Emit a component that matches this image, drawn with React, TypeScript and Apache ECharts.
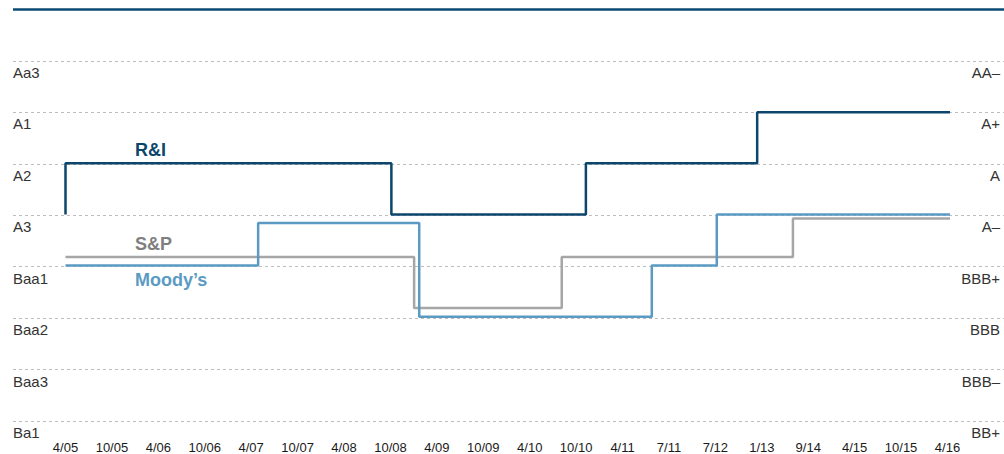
import React, { useEffect, useRef } from "react";
import * as echarts from "echarts";

const xLabels = ["4/05", "10/05", "4/06", "10/06", "4/07", "10/07", "4/08", "10/08", "4/09", "10/09", "4/10", "10/10", "4/11", "7/11", "7/12", "1/13", "9/14", "4/15", "10/15", "4/16"];
const leftRatings = ["Ba1", "Baa3", "Baa2", "Baa1", "A3", "A2", "A1", "Aa3"];
const rightRatings = ["BB+", "BBB–", "BBB", "BBB+", "A–", "A", "A+", "AA–"];

// [position on the label scale, rating level]; each point is where a rating starts
const riData = [[0, 4], [0, 5], [7.02, 4], [11.21, 5], [14.9, 6], [19.07, 6]];
const spData = [[0, 3.17], [7.51, 2.17], [10.69, 3.17], [15.67, 3.92], [19.07, 3.92]];
const moodysData = [[0, 3], [4.15, 3.83], [7.62, 2], [12.63, 3], [14.03, 4], [19.07, 4]];

const seriesNames = ["R&I", "S&P", "Moody’s"];

const FONT = "'Liberation Sans', Arial, Helvetica, sans-serif";
const C_RI = "#0d466d";
const C_SP = "#a6a6a6";
const C_MO = "#5b9bc3";

export default function App() {
  const ref = useRef<HTMLDivElement>(null);
  useEffect(() => {
    if (!ref.current) return;
    const chart = echarts.init(ref.current, undefined, { renderer: "svg" });
    const option = {
      animation: false,
      backgroundColor: "#ffffff",
      textStyle: { fontFamily: FONT },
      grid: [
        { left: 13, right: 0, top: 61, bottom: 33 },
        { left: 65.5, right: 56.5, top: 61, bottom: 33 },
      ],
      xAxis: [
        { type: "value", gridIndex: 0, min: 0, max: 1, show: false },
        {
          type: "value",
          gridIndex: 1,
          min: 0,
          max: 19,
          interval: 1,
          axisLine: { show: false },
          axisTick: { show: false },
          splitLine: { show: false },
          axisLabel: {
            formatter: (v: number) => xLabels[Math.round(v)] ?? "",
            color: "#1a1a1a",
            fontSize: 13,
            fontFamily: FONT,
            margin: 22,
            showMinLabel: true,
            showMaxLabel: true,
          },
        },
      ],
      yAxis: [
        {
          type: "value",
          gridIndex: 0,
          position: "left",
          min: 0,
          max: 7,
          interval: 1,
          axisLine: { show: false },
          axisTick: { show: false },
          splitLine: { show: true, lineStyle: { color: "#bdbdbd", type: [3, 3], width: 1 } },
          axisLabel: {
            inside: true,
            margin: 0,
            align: "left",
            verticalAlign: "top",
            padding: [4, 0, 0, 0],
            color: "#333333",
            fontSize: 15,
            fontFamily: FONT,
            formatter: (v: number) => leftRatings[Math.round(v)] ?? "",
          },
        },
        {
          type: "value",
          gridIndex: 0,
          position: "right",
          min: 0,
          max: 7,
          interval: 1,
          axisLine: { show: false },
          axisTick: { show: false },
          splitLine: { show: false },
          axisLabel: {
            inside: true,
            margin: 4,
            align: "right",
            verticalAlign: "top",
            padding: [4, 0, 0, 0],
            color: "#333333",
            fontSize: 15,
            fontFamily: FONT,
            formatter: (v: number) => rightRatings[Math.round(v)] ?? "",
          },
        },
        { type: "value", gridIndex: 1, min: 0, max: 7, show: false },
      ],
      series: [
        {
          name: seriesNames[1],
          type: "line",
          xAxisIndex: 1,
          yAxisIndex: 2,
          step: "end",
          data: spData,
          symbol: "none",
          clip: false,
          lineStyle: { color: C_SP, width: 2.5 },
        },
        {
          name: seriesNames[2],
          type: "line",
          xAxisIndex: 1,
          yAxisIndex: 2,
          step: "end",
          data: moodysData,
          symbol: "none",
          clip: false,
          lineStyle: { color: C_MO, width: 2.5 },
        },
        {
          name: seriesNames[0],
          type: "line",
          xAxisIndex: 1,
          yAxisIndex: 2,
          step: "end",
          data: riData,
          symbol: "none",
          clip: false,
          lineStyle: { color: C_RI, width: 2.5 },
        },
      ],
      graphic: [
        {
          type: "line",
          shape: { x1: 13, y1: 9.5, x2: 1004, y2: 9.5 },
          style: { stroke: "#0b4a73", lineWidth: 2.5 },
          silent: true,
        },
        {
          type: "text",
          left: 135,
          top: 141,
          style: { text: seriesNames[0], fill: C_RI, font: `bold 18px ${FONT}` },
        },
        {
          type: "text",
          left: 135,
          top: 235,
          style: { text: seriesNames[1], fill: "#808080", font: `bold 18px ${FONT}` },
        },
        {
          type: "text",
          left: 135,
          top: 271,
          style: { text: seriesNames[2], fill: C_MO, font: `bold 18px ${FONT}` },
        },
      ],
    };
    chart.setOption(option as any);
    return () => chart.dispose();
  }, []);
  return (
    <div
      ref={ref}
      style={{ position: "fixed", left: 0, top: 0, width: 1004, height: 454 }}
    />
  );
}
